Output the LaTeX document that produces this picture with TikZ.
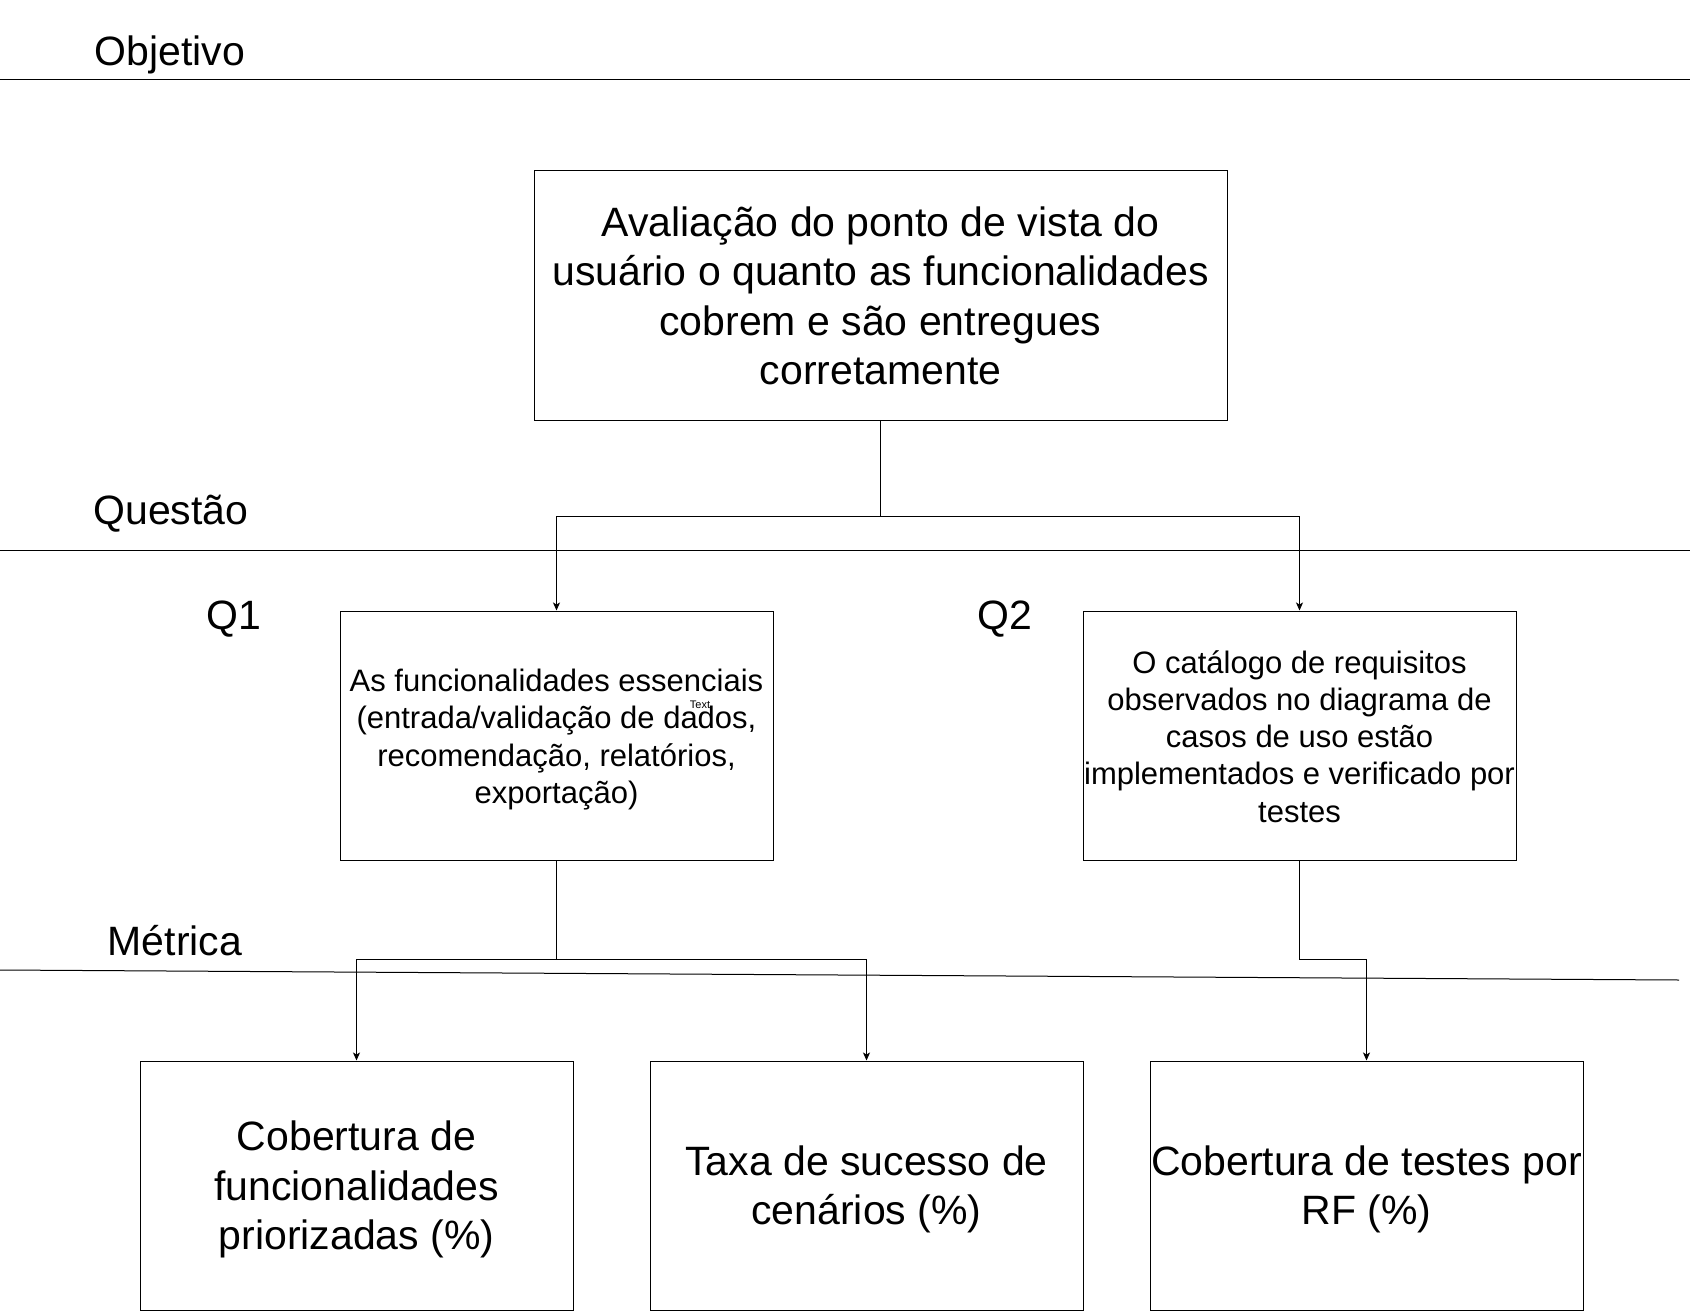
\documentclass[tikz,border=0pt]{standalone}
\usepackage{fontspec}
\setmainfont{Liberation Sans}
\usetikzlibrary{arrows.meta}
\begin{document}
\begin{tikzpicture}[x=1pt,y=-1pt,
  box/.style={draw=black,line width=1pt,inner sep=0pt},
  tx/.style={inner sep=0pt,align=center,yshift=-4pt},
  big/.style={font=\fontsize{41}{49.5}\selectfont},
  mid/.style={font=\fontsize{31}{37.2}\selectfont},
  lbl/.style={inner sep=0pt,yshift=-3.5pt,font=\fontsize{41}{49.5}\selectfont},
  sep/.style={line width=1pt},
  arr/.style={line width=1pt,-{Stealth[length=8pt,width=7pt,inset=2pt]}}]
\useasboundingbox (0,0) rectangle (1692,1311);
\fill[white] (0,0) rectangle (1692,1311);
% separators
\draw[sep] (0,80) -- (1690,80);
\draw[sep] (0,550) -- (1690,550);
\draw[sep] (0,970) -- (1679,980);
% labels
\node[lbl] (lobj) at (170,51) {Objetivo};
\node[lbl] (lq) at (171,510) {Questão};
\node[lbl] (lq1) at (234,616) {Q1};
\node[lbl] (lq2) at (1005,616) {Q2};
\node[lbl,yshift=3.5pt] (lm) at (175,941) {Métrica};
% boxes
\node[box,minimum width=693pt,minimum height=250pt] (obj) at (880.5,295) {};
\node[tx,big,yshift=3pt] (objt) at (obj.center)
  {Avaliação do ponto de vista do\\usuário o quanto as funcionalidades\\cobrem e são entregues\\corretamente};
\node[box,minimum width=433pt,minimum height=249pt] (q1) at (556.5,735.5) {};
\node[tx,mid] (q1t) at (q1.center)
  {As funcionalidades essenciais\\(entrada/validação de dados,\\recomendação, relatórios,\\exportação)};
\node[box,minimum width=433pt,minimum height=249pt] (q2) at (1299.5,735.5) {};
\node[tx,mid,yshift=3pt] (q2t) at (q2.center)
  {O catálogo de requisitos\\observados no diagrama de\\casos de uso estão\\implementados e verificado por\\testes};
\node[inner sep=0pt,font=\fontsize{11}{13}\selectfont] (txt) at (700,705) {Text};
\node[box,minimum width=433pt,minimum height=249pt] (m1) at (356.5,1185.5) {};
\node[tx,big] (m1t) at (m1.center) {Cobertura de\\funcionalidades\\priorizadas (\%)};
\node[box,minimum width=433pt,minimum height=249pt] (m2) at (866.5,1185.5) {};
\node[tx,big] (m2t) at (m2.center) {Taxa de sucesso de\\cenários (\%)};
\node[box,minimum width=433pt,minimum height=249pt] (m3) at (1366.5,1185.5) {};
\node[tx,big] (m3t) at (m3.center) {Cobertura de testes por\\RF (\%)};
% connectors
\draw[arr] (obj.south) -- ++(0,96) -| (q1.north);
\draw[arr] (obj.south) -- ++(0,96) -| (q2.north);
\draw[arr] (q1.south) -- ++(0,99) -| (m1.north);
\draw[arr] (q1.south) -- ++(0,99) -| (m2.north);
\draw[arr] (q2.south) -- ++(0,99) -| (m3.north);
\end{tikzpicture}
\end{document}
